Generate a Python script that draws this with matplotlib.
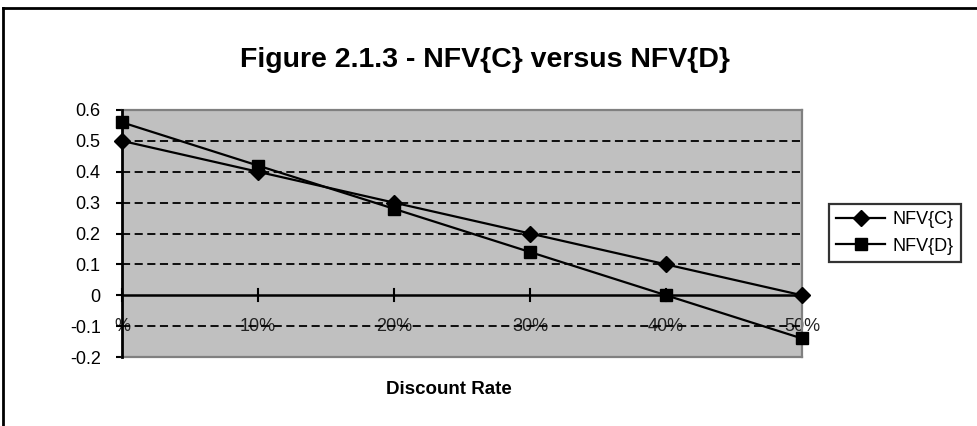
import matplotlib
matplotlib.use("Agg")
import matplotlib.pyplot as plt
from matplotlib.lines import Line2D

plt.rcParams["font.family"] = ["Liberation Sans", "DejaVu Sans"]

rates = [0, 10, 20, 30, 40, 50]
rate_labels = ["%", "10%", "20%", "30%", "40%", "50%"]
nfv_c = [0.5, 0.4, 0.3, 0.2, 0.1, 0.0]
nfv_d = [0.56, 0.42, 0.28, 0.14, 0.0, -0.14]
y_ticks = [0.6, 0.5, 0.4, 0.3, 0.2, 0.1, 0, -0.1, -0.2]

W, H = 977, 426
fig = plt.figure(figsize=(W / 100, H / 100), dpi=100)
ax = fig.add_axes([122 / W, 1 - 357 / H, 680 / W, 247 / H])

ax.set_facecolor("#c0c0c0")
ax.set_xlim(0, 50)
ax.set_ylim(-0.2, 0.6)

# dashed gridlines, solid zero line
for y in y_ticks:
    if y == 0:
        continue
    ax.axhline(y, color="black", lw=1.3, ls=(0, (4.5, 2.5)), zorder=2)
ax.axhline(0, color="black", lw=1.8, zorder=3)

for s in ("top", "right", "bottom"):
    ax.spines[s].set_color("#808080")
    ax.spines[s].set_linewidth(1.6)
    ax.spines[s].set_zorder(4)
ax.spines["left"].set_color("black")
ax.spines["left"].set_linewidth(2)
ax.spines["left"].set_zorder(5)

ax.set_yticks(y_ticks)
ax.set_yticklabels([f"{v:g}" for v in y_ticks], fontsize=13)
ax.tick_params(axis="y", length=4.3, width=1.5, direction="out", pad=11)
ax.set_xticks([])

# category ticks crossing the zero line, labels sitting on the -0.1 line
for x, lab in zip(rates, rate_labels):
    ax.plot([x, x], [-0.02, 0.02], color="black", lw=1.5, zorder=3,
            clip_on=False)
    ax.text(x, -0.1, lab, ha="center", va="center", fontsize=13,
            color="#222222", zorder=1)

ax.plot(rates, nfv_c, color="black", lw=1.6, marker="D", ms=8,
        zorder=6, clip_on=False, label="NFV{C}")
ax.plot(rates, nfv_d, color="black", lw=1.6, marker="s", ms=8.5,
        zorder=6, clip_on=False, label="NFV{D}")

fig.text(485 / W, 1 - 60 / H, "Figure 2.1.3 - NFV{C} versus NFV{D}",
         ha="center", va="center", fontsize=20.5, fontweight="bold")
fig.text(449 / W, 1 - 389 / H, "Discount Rate", ha="center", va="center",
         fontsize=13.5, fontweight="bold")

handles = [Line2D([], [], color="black", lw=1.6, marker="D", ms=8),
           Line2D([], [], color="black", lw=1.6, marker="s", ms=8.5)]
leg = fig.legend(handles, ["NFV{C}", "NFV{D}"], loc="center left",
                 bbox_to_anchor=(829 / W, 1 - 233 / H), fontsize=13,
                 frameon=True, fancybox=False, edgecolor="black",
                 borderpad=0.4, handlelength=2.7, handletextpad=0.4,
                 labelspacing=0.5, borderaxespad=0)
leg.get_frame().set_linewidth(1.6)

# outer chart border (left and top edges)
fig.add_artist(Line2D([3 / W, 3 / W], [0, 1 - 8 / H], color="black",
                      lw=2, transform=fig.transFigure))
fig.add_artist(Line2D([3 / W, 1], [1 - 8 / H, 1 - 8 / H], color="black",
                      lw=2, transform=fig.transFigure))

fig.savefig("out.png", dpi=100)
